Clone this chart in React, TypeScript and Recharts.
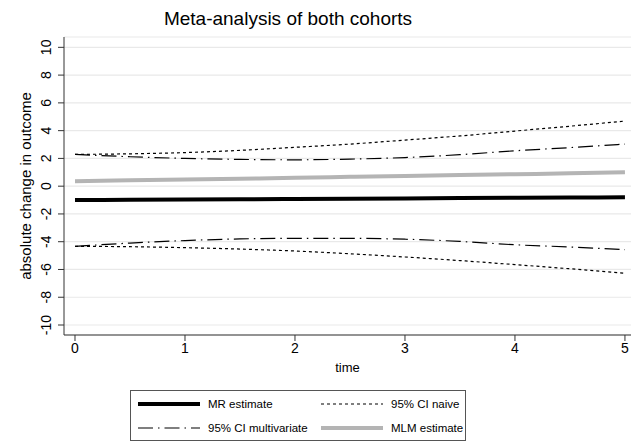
import React from 'react';
import { LineChart, Line, XAxis, YAxis, CartesianGrid } from 'recharts';

const times = [0, 0.5, 1, 1.5, 2, 2.5, 3, 3.5, 4, 4.5, 5];
const mrEstimate = [-1.0, -0.98, -0.96, -0.94, -0.92, -0.9, -0.88, -0.86, -0.84, -0.82, -0.8];
const mlmEstimate = [0.35, 0.42, 0.48, 0.54, 0.6, 0.67, 0.73, 0.8, 0.86, 0.93, 1.0];
const naiveUpper = [2.29, 2.33, 2.42, 2.58, 2.8, 3.03, 3.32, 3.62, 3.97, 4.32, 4.69];
const naiveLower = [-4.33, -4.36, -4.43, -4.53, -4.67, -4.87, -5.1, -5.36, -5.65, -5.95, -6.27];
const multiUpper = [2.29, 2.12, 2.0, 1.93, 1.9, 1.95, 2.06, 2.27, 2.55, 2.78, 3.03];
const multiLower = [-4.33, -4.1, -3.92, -3.8, -3.76, -3.76, -3.82, -3.98, -4.22, -4.38, -4.57];
const xTicks = [0, 1, 2, 3, 4, 5];
const yTicks = [-10, -8, -6, -4, -2, 0, 2, 4, 6, 8, 10];

const data = times.map((t, i) => ({
  t,
  mr: mrEstimate[i],
  mlm: mlmEstimate[i],
  nu: naiveUpper[i],
  nl: naiveLower[i],
  mu: multiUpper[i],
  ml: multiLower[i],
}));

const FONT = '"Liberation Sans", Arial, sans-serif';
const MULTI_DASH = '15 5 1.5 5';
const NAIVE_DASH = '3 3';

const YTick = (props: any) => {
  const { x, y, payload } = props;
  const bx = x - 5;
  return (
    <text
      x={bx}
      y={y}
      transform={`rotate(-90, ${bx}, ${y})`}
      textAnchor="middle"
      fontSize={14}
      fontFamily={FONT}
      fill="#000"
    >
      {payload.value}
    </text>
  );
};

const legendItems = [
  { label: 'MR estimate', stroke: '#000', width: 4, dash: undefined as string | undefined },
  { label: '95% CI naive', stroke: '#000', width: 1.2, dash: NAIVE_DASH },
  { label: '95% CI multivariate', stroke: '#000', width: 1.2, dash: MULTI_DASH },
  { label: 'MLM estimate', stroke: '#b4b4b4', width: 4, dash: undefined },
];

const LegendBox = () => (
  <div
    style={{
      position: 'absolute',
      left: 130,
      top: 390,
      width: 336,
      height: 51,
      boxSizing: 'border-box',
      border: '1px solid #555',
      background: '#fff',
      fontFamily: FONT,
      fontSize: 11.5,
      color: '#000',
    }}
  >
    {legendItems.map((it, i) => {
      const col = i % 2;
      const row = Math.floor(i / 2);
      return (
        <div
          key={it.label}
          style={{
            position: 'absolute',
            left: col === 0 ? 7 : 190,
            top: row === 0 ? 6 : 30,
            display: 'flex',
            alignItems: 'center',
            whiteSpace: 'nowrap',
            height: 14,
          }}
        >
          <svg width={62} height={10} style={{ marginRight: 8 }}>
            <line x1={0} y1={5} x2={62} y2={5} stroke={it.stroke} strokeWidth={it.width} strokeDasharray={it.dash} />
          </svg>
          <span>{it.label}</span>
        </div>
      );
    })}
  </div>
);

export default function App() {
  return (
    <div style={{ position: 'absolute', left: 0, top: 0, width: 631, height: 442, background: '#fff' }}>
      <LineChart
        width={631}
        height={442}
        data={data}
        margin={{ top: 37, right: 0, left: 0, bottom: 67 }}
        style={{ position: 'absolute', left: 0, top: 0 }}
      >
        <CartesianGrid vertical={false} stroke="#e9e9e9" strokeWidth={1.2} />
        <XAxis
          dataKey="t"
          type="number"
          domain={[-0.1, 5.055]}
          ticks={xTicks}
          allowDataOverflow
          height={40}
          stroke="#333"
          tickSize={6}
          tick={{ fill: '#000', fontSize: 14, fontFamily: FONT }}
          label={{ value: 'time', position: 'insideBottom', offset: 3, fill: '#000', fontSize: 13, fontFamily: FONT }}
        />
        <YAxis
          type="number"
          domain={[-10.72, 10.745]}
          ticks={yTicks}
          allowDataOverflow
          width={64}
          stroke="#333"
          tickSize={6}
          tick={<YTick />}
          label={{
            value: 'absolute change in outcome',
            angle: -90,
            position: 'insideLeft',
            offset: 26,
            style: { textAnchor: 'middle' },
            fill: '#000',
            fontSize: 15,
            fontFamily: FONT,
          }}
        />
        <Line dataKey="nu" name="95% CI naive" stroke="#000" strokeWidth={1.2} strokeDasharray={NAIVE_DASH} dot={false} type="monotone" isAnimationActive={false} />
        <Line dataKey="nl" name="95% CI naive lower" stroke="#000" strokeWidth={1.2} strokeDasharray={NAIVE_DASH} dot={false} type="monotone" isAnimationActive={false} />
        <Line dataKey="mu" name="95% CI multivariate" stroke="#000" strokeWidth={1.2} strokeDasharray={MULTI_DASH} dot={false} type="monotone" isAnimationActive={false} />
        <Line dataKey="ml" name="95% CI multivariate lower" stroke="#000" strokeWidth={1.2} strokeDasharray={MULTI_DASH} dot={false} type="monotone" isAnimationActive={false} />
        <Line dataKey="mlm" name="MLM estimate" stroke="#b4b4b4" strokeWidth={4} dot={false} type="monotone" isAnimationActive={false} />
        <Line dataKey="mr" name="MR estimate" stroke="#000" strokeWidth={4} dot={false} type="monotone" isAnimationActive={false} />
      </LineChart>
      <div
        style={{
          position: 'absolute',
          left: 0,
          width: 576,
          top: 8,
          textAlign: 'center',
          fontFamily: FONT,
          fontSize: 19,
          color: '#000',
        }}
      >
        Meta-analysis of both cohorts
      </div>
      <LegendBox />
    </div>
  );
}
